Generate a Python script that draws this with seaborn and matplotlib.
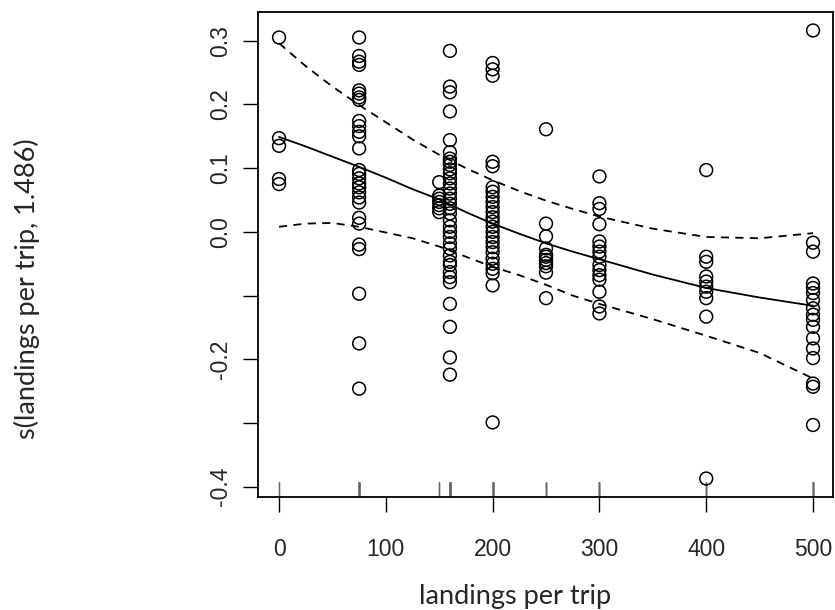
import numpy as np
import pandas as pd
import matplotlib
matplotlib.use("Agg")
import matplotlib.pyplot as plt
import seaborn as sns

# ---- data ----
x_levels = [0, 75, 150, 160, 200, 250, 300, 400, 500]
pts_0 = [0.305, 0.147, 0.135, 0.083, 0.075]
pts_75 = [0.305, 0.276, 0.267, 0.262, 0.222, 0.217, 0.211, 0.207, 0.174, 0.166,
          0.157, 0.150, 0.131, 0.097, 0.091, 0.084, 0.076, 0.070, 0.062, 0.054,
          0.046, 0.022, 0.013, -0.020, -0.027, -0.097, -0.175, -0.246]
pts_150 = [0.078, 0.057, 0.052, 0.047, 0.042, 0.037, 0.031]
pts_160 = [0.284, 0.228, 0.219, 0.189, 0.144, 0.125, 0.115, 0.110, 0.105, 0.098,
           0.092, 0.084, 0.076, 0.068, 0.060, 0.052, 0.044, 0.037, 0.029, 0.018,
           0.008, 0.000, -0.008, -0.018, -0.026, -0.037, -0.047, -0.052, -0.063,
           -0.071, -0.079, -0.113, -0.149, -0.197, -0.224]
pts_200 = [0.265, 0.255, 0.245, 0.110, 0.103, 0.070, 0.063, 0.055, 0.047, 0.039,
           0.031, 0.023, 0.016, 0.008, 0.000, -0.008, -0.016, -0.024, -0.032,
           -0.042, -0.050, -0.058, -0.065, -0.084, -0.299]
pts_250 = [0.161, 0.013, -0.007, -0.026, -0.036, -0.039, -0.044, -0.049, -0.054,
           -0.064, -0.104]
pts_300 = [0.087, 0.045, 0.036, 0.012, -0.015, -0.023, -0.031, -0.039, -0.052,
           -0.060, -0.068, -0.075, -0.094, -0.117, -0.128]
pts_400 = [0.097, -0.039, -0.047, -0.070, -0.078, -0.086, -0.094, -0.104, -0.133,
           -0.387]
pts_500 = [0.316, -0.017, -0.031, -0.081, -0.088, -0.096, -0.107, -0.120, -0.130,
           -0.138, -0.149, -0.167, -0.183, -0.198, -0.238, -0.243, -0.303]

fit_x = [0, 25, 50, 75, 100, 125, 150, 175, 200, 225, 250, 275, 300, 350, 400, 450, 500]
fit_mid = [0.149, 0.134, 0.118, 0.102, 0.085, 0.067, 0.051, 0.031, 0.013, -0.003,
           -0.018, -0.031, -0.043, -0.067, -0.088, -0.103, -0.116]
fit_upper = [0.296, 0.260, 0.228, 0.199, 0.172, 0.145, 0.121, 0.100, 0.081, 0.064,
             0.049, 0.036, 0.024, 0.005, -0.008, -0.010, -0.002]
fit_lower = [0.008, 0.013, 0.014, 0.008, -0.001, -0.010, -0.023, -0.039, -0.055,
             -0.068, -0.083, -0.100, -0.113, -0.137, -0.163, -0.190, -0.230]

y_ticks = [-0.4, -0.3, -0.2, -0.1, 0.0, 0.1, 0.2, 0.3]
y_ticklabels = ["-0.4", "", "-0.2", "", "0.0", "0.1", "0.2", "0.3"]
x_ticks = [0, 100, 200, 300, 400, 500]
x_ticklabels = ["0", "100", "200", "300", "400", "500"]
xlabel = "landings per trip"
ylabel = "s(landings per trip, 1.486)"

cols = [pts_0, pts_75, pts_150, pts_160, pts_200, pts_250, pts_300, pts_400, pts_500]
df = pd.DataFrame({
    "landings": np.concatenate([[xv] * len(c) for xv, c in zip(x_levels, cols)]),
    "s": np.concatenate(cols),
})

# ---- plot ----
sns.set_style("ticks")
plt.rcParams["font.family"] = ["Liberation Sans", "DejaVu Sans"]

W, H = 835, 610
fig = plt.figure(figsize=(W / 100, H / 100), dpi=100)
L, R, T, B = 258, 833, 12, 497
ax = fig.add_axes([L / W, 1 - B / H, (R - L) / W, (B - T) / H])

sns.scatterplot(data=df, x="landings", y="s", marker="o", s=85,
                facecolors="none", edgecolor="black", linewidth=1.1, ax=ax,
                zorder=3)
sns.lineplot(x=fit_x, y=fit_mid, color="black", linewidth=1.3, ax=ax)
sns.lineplot(x=fit_x, y=fit_upper, color="black", linewidth=1.3,
             linestyle=(0, (4.5, 3.5)), ax=ax)
sns.lineplot(x=fit_x, y=fit_lower, color="black", linewidth=1.3,
             linestyle=(0, (4.5, 3.5)), ax=ax)
sns.rugplot(x=df["landings"], height=15 / (B - T), color="#666666",
            linewidth=0.8, ax=ax)

ax.set_xlim(-19.7, 518.7)
ax.set_ylim(-0.416, 0.345)
ax.set_xticks(x_ticks)
ax.set_xticklabels(x_ticklabels, fontsize=16.5)
ax.set_yticks(y_ticks)
ax.set_yticklabels(y_ticklabels, fontsize=16.5, rotation=90, va="center")
ax.tick_params(axis="both", direction="out", length=10.8, width=1.0,
               color="black")
ax.tick_params(axis="x", pad=19)
ax.tick_params(axis="y", pad=8)
for sp in ax.spines.values():
    sp.set_visible(True)
    sp.set_linewidth(1.3)
    sp.set_color("black")

ax.set_xlabel(xlabel, fontsize=19.5, family=["Lato", "DejaVu Sans"])
ax.set_ylabel(ylabel, fontsize=19.5, family=["Lato", "DejaVu Sans"])
ax.xaxis.set_label_coords((515 - L) / (R - L), (B - 584) / (B - T))
ax.yaxis.set_label_coords((40 - L) / (R - L), (B - 289) / (B - T))
ax.grid(False)

fig.savefig("out.png", dpi=100)
